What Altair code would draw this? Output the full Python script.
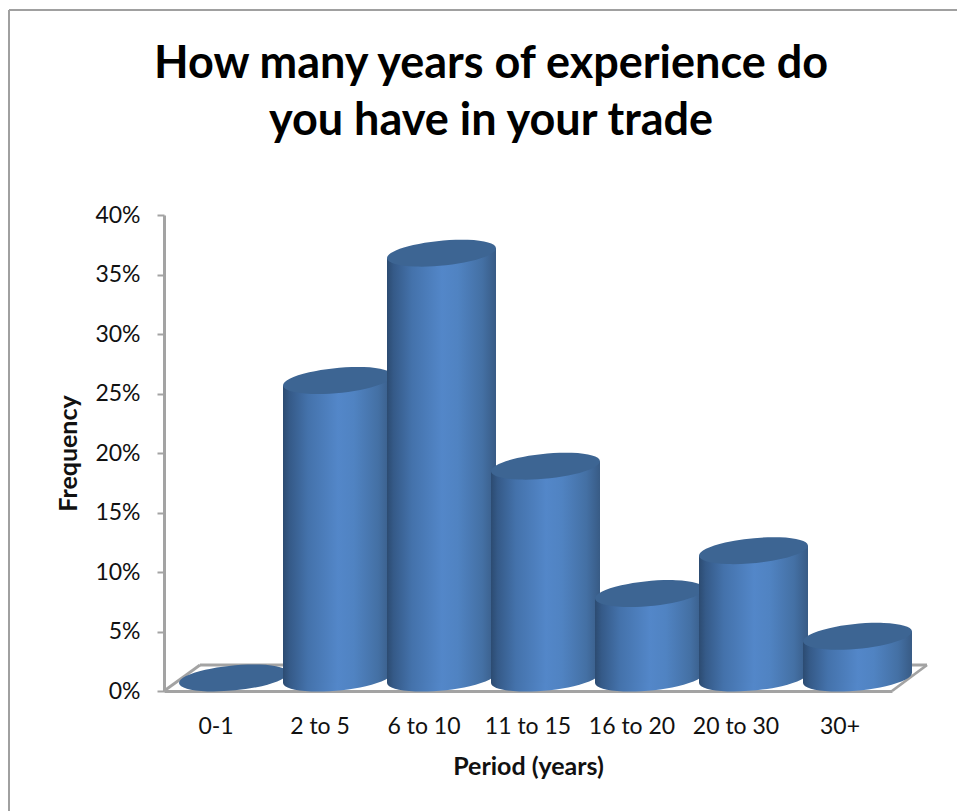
import math
import altair as alt
import pandas as pd

periods = ["0-1", "2 to 5", "6 to 10", "11 to 15", "16 to 20", "20 to 30", "30+"]
frequency = [0.0, 25.0, 35.7, 17.8, 7.1, 10.7, 3.5]
title_lines = ["How many years of experience do", "you have in your trade"]

FONT = "Lato"
GREY = "#a3a3a3"
TOP = "#3d6593"

# Plot geometry
PLOT_W, PLOT_H = 728, 476
STEP = PLOT_W / len(periods)
DEPTH_X, DEPTH_Y = 36, 26        # receding floor
CYL_W = 109                      # cylinder width
SHIFT_X, SHIFT_Y = 17.5, -13     # cylinder axis relative to the front of the floor
TILT = 5                         # vertical offset of the ellipse's side tangents

# Tilted ellipse as a symbol path; +-1 in path units spans the symbol size
A, B, ANGLE = 54.7, 12.47, -5.5
ratio = B / A
ca, sa = math.cos(math.radians(ANGLE)), math.sin(math.radians(ANGLE))
ELLIPSE = (
    f"M{-ca:.4f},{-sa:.4f} "
    f"A1,{ratio:.4f} {ANGLE} 1 1 {ca:.4f},{sa:.4f} "
    f"A1,{ratio:.4f} {ANGLE} 1 1 {-ca:.4f},{-sa:.4f} Z"
)
ELLIPSE_SIZE = (2 * A) ** 2


def ramp(stops):
    return alt.LinearGradient(
        gradient="linear", x1=0, x2=1, y1=0, y2=0,
        stops=[alt.GradientStop(offset=o, color=c) for o, c in stops],
    )


left_stops = [(0, "#2c4b71"), (0.12, "#355a88"), (0.45, "#4472ab"), (1, "#5387c9")]
right_stops = [(0, "#5387c9"), (0.3, "#5083c2"), (0.75, "#4470a4"), (1, "#385b85")]
full_stops = [(o / 2, c) for o, c in left_stops] + [(0.5 + o / 2, c) for o, c in right_stops[1:]]

x_scale = alt.Scale(domain=periods, paddingInner=0, paddingOuter=0)
y_scale = alt.Scale(domain=[0, 40], nice=False)


def cylinder(period, value):
    """Base ellipse, two half-walls and the lid of one cylinder."""
    df = pd.DataFrame({"Period": [period], "Frequency": [value], "Base": [0.0]})
    base = alt.Chart(df)
    x = alt.X("Period:N", scale=x_scale, sort=periods)
    y = alt.Y("Frequency:Q", scale=y_scale)
    y2 = alt.Y2("Base:Q")
    parts = []
    if value > 0:
        parts.append(
            base.mark_point(
                shape=ELLIPSE, size=ELLIPSE_SIZE, filled=True, opacity=1,
                fill=ramp(full_stops), xOffset=SHIFT_X, yOffset=SHIFT_Y,
            ).encode(x=x, y=alt.Y("Base:Q", scale=y_scale))
        )
        # The left wall runs one pixel past the axis so the two halves leave no seam
        parts.append(
            base.mark_bar(
                size=CYL_W / 2 + 1, fill=ramp(left_stops),
                xOffset=SHIFT_X - CYL_W / 4 + 0.5,
                yOffset=SHIFT_Y + TILT, y2Offset=SHIFT_Y + TILT,
            ).encode(x=x, y=y, y2=y2)
        )
        parts.append(
            base.mark_bar(
                size=CYL_W / 2, fill=ramp(right_stops), xOffset=SHIFT_X + CYL_W / 4,
                yOffset=SHIFT_Y - TILT, y2Offset=SHIFT_Y - TILT,
            ).encode(x=x, y=y, y2=y2)
        )
    parts.append(
        base.mark_point(
            shape=ELLIPSE, size=ELLIPSE_SIZE, filled=True, opacity=1,
            fill=TOP, xOffset=SHIFT_X, yOffset=SHIFT_Y,
        ).encode(x=x, y=y)
    )
    return parts


def line(x0, y0, x1, y1, color=GREY, width=2.8):
    return alt.Chart(pd.DataFrame({"k": [0]})).mark_rule(
        color=color, strokeWidth=width
    ).encode(
        x=alt.value(x0), y=alt.value(y0), x2=alt.value(x1), y2=alt.value(y1)
    )


floor = [
    line(0, PLOT_H, DEPTH_X, PLOT_H - DEPTH_Y),
    line(DEPTH_X, PLOT_H - DEPTH_Y, PLOT_W + DEPTH_X - 1, PLOT_H - DEPTH_Y),
    line(PLOT_W, PLOT_H, PLOT_W + DEPTH_X - 1, PLOT_H - DEPTH_Y),
]
# Outer frame of the chart (left and top edges)
frame = [
    line(-155, -205, -155, PLOT_H + 120, color="#a0a0a0", width=2),
    line(-155, -205, PLOT_W + 65, -205, color="#a0a0a0", width=2),
]

# Two-line heading, centred over the frame
title_df = pd.DataFrame({"k": [0]})
heading = alt.Chart(title_df).mark_text(
    text=title_lines, font=FONT, fontSize=45, fontWeight="bold", color="#000000",
    align="center", baseline="alphabetic", lineHeight=57,
).encode(x=alt.value(327), y=alt.value(-137))

# Axes come from an invisible layer that owns both scales
axes = alt.Chart(pd.DataFrame({"Period": periods, "Frequency": frequency})).mark_point(opacity=0).encode(
    x=alt.X(
        "Period:N", scale=x_scale, sort=periods,
        axis=alt.Axis(
            title="Period (years)", labelAngle=0, ticks=False, labelPadding=24,
            labelFont=FONT, labelFontSize=23, labelColor="#111111",
            titleFont=FONT, titleFontSize=25, titleFontWeight="bold", titleColor="#111111",
            titlePadding=16, domainColor=GREY, domainWidth=3, grid=False,
        ),
    ),
    y=alt.Y(
        "Frequency:Q", scale=y_scale,
        axis=alt.Axis(
            title="Frequency", values=[0, 5, 10, 15, 20, 25, 30, 35, 40],
            labelExpr="datum.value + '%'", tickColor=GREY, tickSize=7, tickWidth=2,
            labelFont=FONT, labelFontSize=23, labelColor="#111111", labelPadding=17,
            titleFont=FONT, titleFontSize=25, titleFontWeight="bold", titleColor="#111111",
            titlePadding=13, domainColor=GREY, domainWidth=3, grid=False,
        ),
    ),
)

cylinders = [part for p, v in zip(periods, frequency) for part in cylinder(p, v)]

chart = alt.layer(*frame, heading, axes, *floor, *cylinders).properties(
    width=PLOT_W,
    height=PLOT_H,
    background="#ffffff",
    padding={"left": 164, "top": 215, "right": 65, "bottom": 120},
    autosize=alt.AutoSizeParams(type="none"),
).configure_view(strokeWidth=0)

chart.save("out.html", embed_options={"renderer": "svg", "actions": False})
